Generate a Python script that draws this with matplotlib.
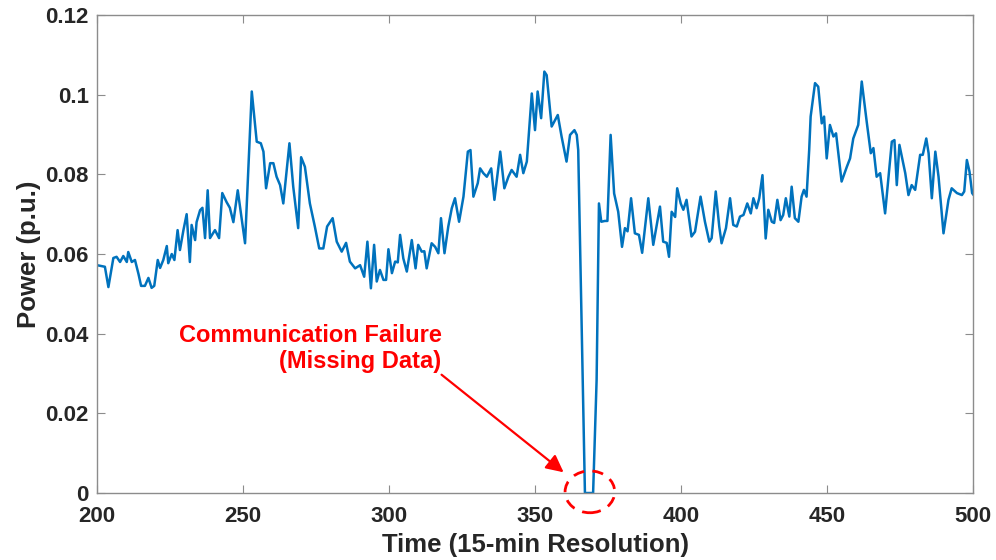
import matplotlib
matplotlib.use("Agg")
import matplotlib.pyplot as plt
from matplotlib.patches import Ellipse

plt.rcParams['font.family'] = ['Liberation Sans', 'DejaVu Sans']

time = [
    200.0, 202.7, 203.9, 205.6, 206.7, 207.9, 209.0, 210.2, 210.7, 211.9, 213.0, 214.2, 215.1,
    216.4, 217.6, 218.7, 219.6, 220.8, 221.6, 222.7, 223.9, 224.4, 225.6, 226.5, 227.6, 228.4,
    229.6, 230.7, 231.8, 232.4, 233.6, 234.1, 235.3, 236.1, 237.0, 237.9, 238.7, 240.4, 241.8,
    242.9, 244.4, 245.5, 246.7, 248.2, 249.5, 250.7, 253.0, 254.7, 256.1, 257.0, 257.9, 259.3,
    260.4, 261.5, 262.7, 263.8, 265.9, 267.2, 268.9, 269.9, 271.2, 272.9, 274.6, 276.1, 277.5,
    278.8, 280.7, 282.1, 283.8, 285.3, 286.6, 288.4, 290.1, 291.5, 292.6, 293.8, 294.9, 295.8,
    296.9, 298.1, 299.0, 299.8, 301.0, 302.1, 303.0, 303.8, 304.9, 306.1, 307.8, 309.1, 310.0,
    311.2, 312.1, 312.9, 314.6, 315.8, 316.9, 317.8, 319.0, 320.3, 321.5, 322.6, 324.0, 325.5,
    327.0, 327.9, 328.9, 330.4, 331.2, 332.3, 333.5, 335.0, 336.1, 338.1, 339.5, 340.9, 342.0,
    343.7, 344.9, 346.0, 347.2, 348.0, 348.9, 350.0, 350.9, 352.1, 353.2, 354.0, 355.7, 357.8,
    359.1, 360.8, 362.0, 363.5, 364.3, 364.8, 367.1, 369.9, 371.1, 371.9, 372.7, 373.9, 374.8,
    375.9, 377.1, 378.5, 379.8, 380.8, 381.7, 382.9, 384.2, 385.6, 386.7, 388.8, 390.5, 392.8,
    393.9, 395.1, 395.9, 396.8, 398.0, 398.7, 399.9, 400.8, 401.9, 403.6, 404.8, 406.7, 408.2,
    409.7, 410.5, 411.9, 413.1, 413.9, 415.4, 416.8, 417.9, 419.1, 420.2, 421.4, 422.7, 423.9,
    424.8, 425.9, 426.8, 427.9, 429.0, 429.9, 431.1, 431.9, 433.0, 434.1, 435.0, 435.9, 437.1,
    437.9, 439.0, 440.2, 441.3, 442.1, 443.0, 443.9, 444.4, 445.9, 447.0, 448.2, 449.0, 449.9,
    451.0, 452.2, 453.1, 455.0, 456.8, 457.9, 459.0, 460.7, 461.9, 463.6, 465.0, 465.9, 467.0,
    468.2, 469.9, 472.2, 473.1, 473.9, 474.8, 476.8, 477.9, 479.0, 480.2, 481.9, 482.8, 484.0,
    484.8, 485.9, 487.1, 488.2, 489.9, 491.6, 492.7, 494.5, 496.2, 497.0, 497.9, 498.8, 499.7,
    500.0,
]
power = [
    0.0572, 0.0568, 0.0517, 0.0590, 0.0593, 0.0580, 0.0595, 0.0580, 0.0605, 0.0580, 0.0585, 0.0550, 0.0520,
    0.0520, 0.0540, 0.0515, 0.0520, 0.0585, 0.0565, 0.0585, 0.0620, 0.0577, 0.0600, 0.0585, 0.0660, 0.0610,
    0.0660, 0.0700, 0.0580, 0.0673, 0.0635, 0.0680, 0.0710, 0.0716, 0.0640, 0.0760, 0.0640, 0.0660, 0.0640,
    0.0753, 0.0730, 0.0716, 0.0680, 0.0760, 0.0690, 0.0627, 0.1008, 0.0882, 0.0878, 0.0857, 0.0765, 0.0828,
    0.0828, 0.0794, 0.0773, 0.0727, 0.0878, 0.0769, 0.0665, 0.0843, 0.0819, 0.0727, 0.0669, 0.0614, 0.0614,
    0.0669, 0.0690, 0.0631, 0.0606, 0.0628, 0.0581, 0.0564, 0.0572, 0.0543, 0.0631, 0.0514, 0.0623, 0.0531,
    0.0560, 0.0535, 0.0535, 0.0612, 0.0552, 0.0581, 0.0579, 0.0648, 0.0589, 0.0556, 0.0635, 0.0564, 0.0623,
    0.0606, 0.0607, 0.0564, 0.0627, 0.0618, 0.0602, 0.0690, 0.0602, 0.0669, 0.0715, 0.0740, 0.0681, 0.0744,
    0.0857, 0.0861, 0.0744, 0.0778, 0.0815, 0.0803, 0.0794, 0.0815, 0.0736, 0.0857, 0.0765, 0.0794, 0.0811,
    0.0794, 0.0849, 0.0803, 0.0832, 0.0911, 0.1003, 0.0911, 0.1008, 0.0941, 0.1058, 0.1049, 0.0920, 0.0949,
    0.0895, 0.0832, 0.0899, 0.0911, 0.0899, 0.0861, 0.0000, 0.0000, 0.0284, 0.0727, 0.0681, 0.0683, 0.0683,
    0.0899, 0.0752, 0.0706, 0.0618, 0.0665, 0.0657, 0.0740, 0.0652, 0.0648, 0.0603, 0.0740, 0.0623, 0.0719,
    0.0631, 0.0628, 0.0593, 0.0706, 0.0693, 0.0765, 0.0727, 0.0711, 0.0736, 0.0644, 0.0656, 0.0744, 0.0681,
    0.0631, 0.0640, 0.0757, 0.0669, 0.0627, 0.0665, 0.0740, 0.0673, 0.0669, 0.0694, 0.0698, 0.0727, 0.0702,
    0.0740, 0.0715, 0.0740, 0.0798, 0.0639, 0.0711, 0.0681, 0.0678, 0.0736, 0.0685, 0.0698, 0.0740, 0.0694,
    0.0769, 0.0690, 0.0681, 0.0744, 0.0761, 0.0744, 0.0861, 0.0945, 0.1029, 0.1020, 0.0928, 0.0945, 0.0840,
    0.0924, 0.0895, 0.0903, 0.0782, 0.0819, 0.0840, 0.0890, 0.0924, 0.1033, 0.0932, 0.0853, 0.0866, 0.0794,
    0.0803, 0.0702, 0.0882, 0.0886, 0.0773, 0.0874, 0.0803, 0.0748, 0.0773, 0.0761, 0.0849, 0.0849, 0.0890,
    0.0853, 0.0740, 0.0857, 0.0794, 0.0652, 0.0736, 0.0765, 0.0753, 0.0748, 0.0757, 0.0836, 0.0807, 0.0753,
    0.0750,
]

x_ticks = [200, 250, 300, 350, 400, 450, 500]
y_ticks = [0, 0.02, 0.04, 0.06, 0.08, 0.1, 0.12]
y_tick_labels = ['0', '0.02', '0.04', '0.06', '0.08', '0.1', '0.12']

annotation_text = "Communication Failure\n(Missing Data)"
failure_center = (368.8, 0.0003)

fig = plt.figure(figsize=(9.96, 5.6), dpi=100)
ax = fig.add_axes([0.0974, 0.1196, 0.8795, 0.8536])

ax.plot(time, power, color='#0072BD', linewidth=1.8)

ax.set_xlim(200, 500)
ax.set_ylim(0, 0.12)
ax.set_xticks(x_ticks)
ax.set_yticks(y_ticks)
ax.set_yticklabels(y_tick_labels)

edge = '#8c8c8c'
for s in ax.spines.values():
    s.set_color(edge)
    s.set_linewidth(1.0)
ax.tick_params(direction='in', length=6, width=0.8, color=edge,
               top=True, right=True, labelsize=16, labelcolor='#262626', pad=6)
ax.tick_params(axis='x', pad=9)
for lbl in ax.get_xticklabels() + ax.get_yticklabels():
    lbl.set_fontweight('bold')

ax.set_xlabel('Time (15-min Resolution)', fontsize=18.5, fontweight='bold', color='#262626', labelpad=5)
ax.set_ylabel('Power (p.u.)', fontsize=18.5, fontweight='bold', color='#262626', labelpad=3)

# Annotation
ax.text(318, 0.0362, annotation_text, ha='right', va='center', multialignment='right',
        fontsize=17, fontweight='bold', color='red', linespacing=1.15)
ax.annotate('', xy=(359.8, 0.0052), xytext=(318, 0.0297),
            arrowprops=dict(arrowstyle='-|>', color='red', lw=1.6, mutation_scale=26,
                            shrinkA=0, shrinkB=0))

ell = Ellipse(failure_center, width=17.0, height=0.0105, fill=False, edgecolor='red',
              linestyle=(0, (4, 3)), linewidth=2.0, clip_on=False, zorder=5)
ax.add_patch(ell)

fig.savefig('out.png', dpi=100)
